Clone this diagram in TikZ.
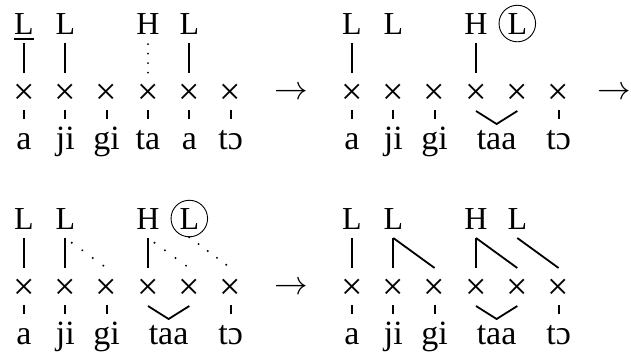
\documentclass[tikz,border=0pt]{standalone}
\usepackage{fontspec}
\setmainfont{Liberation Serif}
\begin{document}
\begin{tikzpicture}[x=1pt,y=-1pt,
  tone/.style={font=\fontsize{32}{32}\selectfont, inner sep=0pt, anchor=base},
  circtone/.style={tone, circle, draw, line width=0.9pt, inner sep=2.8pt},
  skel/.style={font=\fontsize{38}{38}\selectfont, inner sep=0pt, anchor=center},
  syl/.style={font=\fontsize{34}{34}\selectfont, inner sep=0pt, anchor=base},
  arr/.style={font=\fontsize{24.88}{24.88}\selectfont, inner sep=0pt, anchor=center},
  assoc/.style={line width=1.8pt},
  tickln/.style={line width=2pt},
  vline/.style={line width=1.6pt},
  dotv/.style={line width=2pt, line cap=round, dash pattern=on 0pt off 9.5pt, dash phase=8.5pt},
  dotd/.style={line width=2.2pt, line cap=round, dash pattern=on 0pt off 13pt, dash phase=5pt},
  dotc/.style={line width=2.2pt, line cap=round, dash pattern=on 0pt off 11.5pt, dash phase=0pt}]
\useasboundingbox (0,0) rectangle (631,354);

% ---------------- panel 1 ----------------
\foreach \i/\x in {1/24,2/65.3,3/106.6,4/148,5/189.3,6/230.6}{
  \node[skel] (p1x\i) at (\x,94) {×};
}
\foreach \i/\x/\s in {1/24/a,2/65.3/ji,3/106.6/gi,4/148/ta,5/189.3/a,6/230.6/tɔ}{
  \node[syl] (p1s\i) at (\x,149) {\s};
  \draw[tickln] ([yshift=-16pt]p1x\i.center) -- ([yshift=30pt]p1s\i.base);
}
\node[tone] (p1t1) at (24,34) {L};
\node[tone] (p1t2) at (65.3,34) {L};
\node[tone] (p1t4) at (148,34) {H};
\node[tone] (p1t5) at (189.3,34) {L};
\draw[vline] ([xshift=-0.5pt,yshift=-5pt]p1t1.base west) -- ([xshift=0.5pt,yshift=-5pt]p1t1.base east);
\draw[assoc] ([yshift=-9pt]p1t1.base) -- ([yshift=21pt]p1x1.center);
\draw[assoc] ([yshift=-9pt]p1t2.base) -- ([yshift=21pt]p1x2.center);
\draw[dotv] ([yshift=-9pt]p1t4.base) -- ([yshift=21pt]p1x4.center);
\draw[assoc] ([yshift=-9pt]p1t5.base) -- ([yshift=21pt]p1x5.center);
\node[arr] (a1) at (291,93) {\scalebox{1.35}{$\rightarrow$}};

% ---------------- panel 2 ----------------
\foreach \i/\x in {1/352,2/393.3,3/434.6,4/476,5/517.3,6/558.6}{
  \node[skel] (p2x\i) at (\x,94) {×};
}
\foreach \i/\x/\s in {1/352/a,2/393.3/ji,3/434.6/gi,6/558.6/tɔ}{
  \node[syl] (p2s\i) at (\x,149) {\s};
  \draw[tickln] ([yshift=-16pt]p2x\i.center) -- ([yshift=30pt]p2s\i.base);
}
\node[syl] (p2s4) at (496.6,149) {taa};
\coordinate (p2v) at (496.6,124);
\draw[assoc] ([yshift=-17pt]p2x4.center) -- (p2v) -- ([yshift=-17pt]p2x5.center);
\node[tone] (p2t1) at (352,34) {L};
\node[tone] (p2t2) at (393.3,34) {L};
\node[tone] (p2t4) at (476,34) {H};
\node[circtone] (p2t5) at (517.3,34) {L};
\draw[assoc] ([yshift=-9pt]p2t1.base) -- ([yshift=21pt]p2x1.center);
\draw[assoc] ([yshift=-9pt]p2t4.base) -- ([yshift=21pt]p2x4.center);
\node[arr] (a2) at (614.5,93) {\scalebox{1.35}{$\rightarrow$}};

% ---------------- panel 3 ----------------
\foreach \i/\x in {1/24,2/65.3,3/106.6,4/148,5/189.3,6/230.6}{
  \node[skel] (p3x\i) at (\x,289) {×};
}
\foreach \i/\x/\s in {1/24/a,2/65.3/ji,3/106.6/gi,6/230.6/tɔ}{
  \node[syl] (p3s\i) at (\x,344) {\s};
  \draw[tickln] ([yshift=-16pt]p3x\i.center) -- ([yshift=30pt]p3s\i.base);
}
\node[syl] (p3s4) at (168.6,344) {taa};
\coordinate (p3v) at (168.6,319);
\draw[assoc] ([yshift=-17pt]p3x4.center) -- (p3v) -- ([yshift=-17pt]p3x5.center);
\node[tone] (p3t1) at (24,229) {L};
\node[tone] (p3t2) at (65.3,229) {L};
\node[tone] (p3t4) at (148,229) {H};
\node[circtone] (p3t5) at (189.3,229) {L};
\draw[assoc] ([yshift=-9pt]p3t1.base) -- ([yshift=21pt]p3x1.center);
\draw[assoc] ([yshift=-9pt]p3t2.base) -- ([yshift=21pt]p3x2.center);
\draw[assoc] ([yshift=-9pt]p3t4.base) -- ([yshift=21pt]p3x4.center);
\draw[dotd] ([yshift=-9pt]p3t2.base) -- ([yshift=21pt]p3x3.center);
\draw[dotd] ([yshift=-9pt]p3t4.base) -- ([yshift=21pt]p3x5.center);
\draw[dotc] (p3t5.south) -- ([yshift=21pt]p3x6.center);
\node[arr] (a3) at (291,288) {\scalebox{1.35}{$\rightarrow$}};

% ---------------- panel 4 ----------------
\foreach \i/\x in {1/352,2/393.3,3/434.6,4/476,5/517.3,6/558.6}{
  \node[skel] (p4x\i) at (\x,289) {×};
}
\foreach \i/\x/\s in {1/352/a,2/393.3/ji,3/434.6/gi,6/558.6/tɔ}{
  \node[syl] (p4s\i) at (\x,344) {\s};
  \draw[tickln] ([yshift=-16pt]p4x\i.center) -- ([yshift=30pt]p4s\i.base);
}
\node[syl] (p4s4) at (496.6,344) {taa};
\coordinate (p4v) at (496.6,319);
\draw[assoc] ([yshift=-17pt]p4x4.center) -- (p4v) -- ([yshift=-17pt]p4x5.center);
\node[tone] (p4t1) at (352,229) {L};
\node[tone] (p4t2) at (393.3,229) {L};
\node[tone] (p4t4) at (476,229) {H};
\node[tone] (p4t5) at (517.3,229) {L};
\draw[assoc] ([yshift=-9pt]p4t1.base) -- ([yshift=21pt]p4x1.center);
\draw[assoc] ([yshift=-9pt]p4t2.base) -- ([yshift=21pt]p4x2.center);
\draw[assoc] ([yshift=-9pt]p4t4.base) -- ([yshift=21pt]p4x4.center);
\draw[assoc] ([yshift=-9pt]p4t2.base) -- ([yshift=21pt]p4x3.center);
\draw[assoc] ([yshift=-9pt]p4t4.base) -- ([yshift=21pt]p4x5.center);
\draw[assoc] ([yshift=-9pt]p4t5.base) -- ([yshift=21pt]p4x6.center);
\end{tikzpicture}
\end{document}
